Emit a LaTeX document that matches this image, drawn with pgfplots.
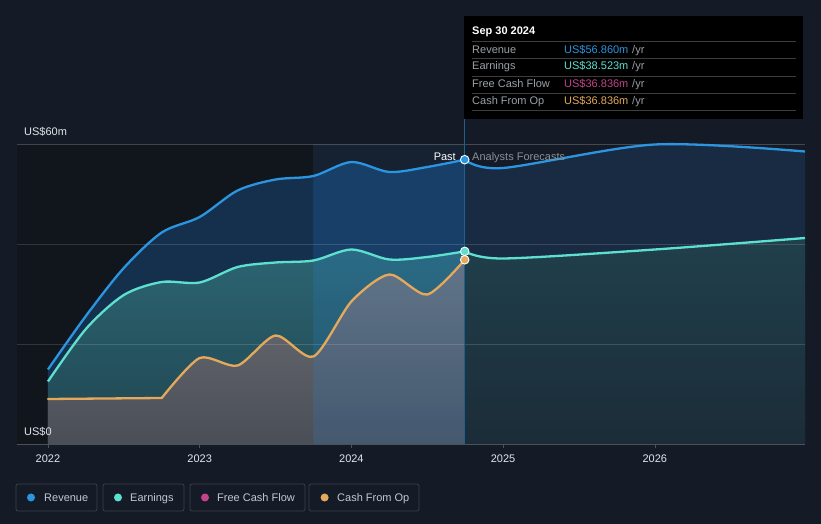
\documentclass[border=0pt]{standalone}
\usepackage{pgfplots}
\pgfplotsset{compat=1.18}
\usepackage{fontspec}
\setmainfont{Liberation Sans}
\definecolor{bg}{HTML}{151B26}
\definecolor{pastdark}{HTML}{11151C}
\definecolor{revline}{HTML}{2B95E0}
\definecolor{earnline}{HTML}{5EE0D0}
\definecolor{cashline}{HTML}{E6A95C}
\definecolor{fcfcol}{HTML}{C2448A}
\definecolor{revfillpast}{HTML}{15304D}
\definecolor{revfillfc}{HTML}{182B42}
\definecolor{earntop}{HTML}{2C6572}
\definecolor{earnbot}{HTML}{1F4550}
\definecolor{earnfctop}{HTML}{20404B}
\definecolor{earnfcbot}{HTML}{1B2C38}
\definecolor{cashtop}{HTML}{6E7076}
\definecolor{cashbot}{HTML}{4A4E56}
\colorlet{cashmid}{cashbot!75!cashtop}
\definecolor{bandcol}{HTML}{2A8EE8}
\definecolor{axiscol}{HTML}{4B515B}
\definecolor{ticktext}{HTML}{E2E5EA}
\definecolor{legtext}{HTML}{C3C7CE}
\definecolor{legborder}{HTML}{3A3F48}
\definecolor{tiplabel}{HTML}{9AA0A6}
\definecolor{tipsep}{HTML}{3D3D3D}
\definecolor{forecasttext}{HTML}{8A8F99}
\definecolor{vline}{HTML}{1F5F92}
\newcommand{\sz}{\fontsize{11}{13}\selectfont}
\begin{document}
\begin{tikzpicture}
\useasboundingbox (0pt,0pt) rectangle (821pt,524pt);
\fill[bg] (0pt,0pt) rectangle (821pt,524pt);
\begin{axis}[
  at={(17pt,80pt)}, anchor=south west, scale only axis,
  width=788pt, height=300pt,
  xmin=2021.796, xmax=2026.99, ymin=0, ymax=60,
  axis x line*=bottom, axis y line=none,
  x axis line style={draw=axiscol, line width=0.8pt, -},
  xtick={2022,2023,2024,2025,2026},
  xticklabels={2022,2023,2024,2025,2026},
  tick align=outside, major tick length=4pt,
  tick style={draw=axiscol, line width=0.6pt},
  xticklabel style={font=\sz, text=ticktext, yshift=-3pt},
  ytick=\empty,
  clip=false, axis on top,
]
% past dark region
\fill[pastdark] (axis cs:2021.796,0) rectangle (axis cs:2023.75,60);
% revenue fills
\addplot[smooth, draw=none, fill=revfillpast] coordinates {
(2022.0,14.9) (2022.25,25.6) (2022.5,35.2) (2022.75,42.3) (2023.0,45.4)
(2023.25,50.7) (2023.5,52.9) (2023.75,53.6) (2024.0,56.4) (2024.25,54.4)
(2024.5,55.4) (2024.747,56.86)} \closedcycle;
\addplot[smooth, draw=none, fill=revfillfc] coordinates {
(2024.747,56.86) (2025.0,55.2) (2026.0,59.9) (2026.99,58.5)} \closedcycle;
% earnings fills
\addplot[smooth, draw=none, top color=earntop, bottom color=earnbot] coordinates {
(2022.0,12.5) (2022.25,23.0) (2022.5,29.8) (2022.75,32.4) (2023.0,32.3)
(2023.25,35.4) (2023.5,36.3) (2023.75,36.7) (2024.0,38.9) (2024.25,36.9)
(2024.5,37.4) (2024.747,38.52)} \closedcycle;
\addplot[smooth, draw=none, top color=earnfctop, bottom color=earnfcbot] coordinates {
(2024.747,38.52) (2025.0,37.1) (2026.0,38.9) (2026.99,41.2)} \closedcycle;
% cash fill (flat part, then smooth part)
\addplot[sharp plot, draw=none, top color=cashmid, bottom color=cashbot] coordinates {
(2022.0,9.0) (2022.75,9.2)} \closedcycle;
\addplot[smooth, tension=0.45, draw=none, top color=cashtop, bottom color=cashbot] coordinates {
(2022.75,9.2) (2023.0,17.2)
(2023.25,15.7) (2023.5,21.7) (2023.75,17.5) (2024.0,28.5) (2024.25,33.9)
(2024.5,29.9) (2024.747,36.84)} \closedcycle;
% band (last year of the past)
\fill[bandcol, fill opacity=0.06] (axis cs:2023.75,0) rectangle (axis cs:2024.747,60);
\addplot[smooth, draw=none, fill=bandcol, fill opacity=0.12] coordinates {
(2023.75,53.6) (2024.0,56.4) (2024.25,54.4) (2024.5,55.4) (2024.747,56.86)} \closedcycle;
% gridlines
\draw[white, opacity=0.14, line width=0.7pt] (axis cs:2021.796,20) -- (axis cs:2026.99,20);
\draw[white, opacity=0.14, line width=0.7pt] (axis cs:2021.796,40) -- (axis cs:2026.99,40);
\draw[white, opacity=0.2, line width=0.7pt] (axis cs:2021.796,60) -- (axis cs:2026.99,60);
% lines
\addplot[smooth, revline, line width=2.3pt] coordinates {
(2022.0,14.9) (2022.25,25.6) (2022.5,35.2) (2022.75,42.3) (2023.0,45.4)
(2023.25,50.7) (2023.5,52.9) (2023.75,53.6) (2024.0,56.4) (2024.25,54.4)
(2024.5,55.4) (2024.747,56.86)};
\addplot[smooth, revline, line width=2.3pt] coordinates {
(2024.747,56.86) (2025.0,55.2) (2026.0,59.9) (2026.99,58.5)};
\addplot[smooth, earnline, line width=2.3pt] coordinates {
(2022.0,12.5) (2022.25,23.0) (2022.5,29.8) (2022.75,32.4) (2023.0,32.3)
(2023.25,35.4) (2023.5,36.3) (2023.75,36.7) (2024.0,38.9) (2024.25,36.9)
(2024.5,37.4) (2024.747,38.52)};
\addplot[smooth, earnline, line width=2.3pt] coordinates {
(2024.747,38.52) (2025.0,37.1) (2026.0,38.9) (2026.99,41.2)};
\addplot[sharp plot, cashline, line width=2.3pt, line cap=round] coordinates {
(2022.0,9.0) (2022.75,9.2)};
\addplot[smooth, tension=0.45, cashline, line width=2.3pt, line cap=round] coordinates {
(2022.75,9.2) (2023.0,17.2)
(2023.25,15.7) (2023.5,21.7) (2023.75,17.5) (2024.0,28.5) (2024.25,33.9)
(2024.5,29.9) (2024.747,36.84)};
% vertical line
\draw[vline, line width=0.8pt] (axis cs:2024.747,0) -- (axis cs:2024.747,65.1);
% dots
\addplot[only marks, mark=*, mark size=4.3pt, mark options={fill=revline, draw=white, line width=0.9pt}] coordinates {(2024.747,56.86)};
\addplot[only marks, mark=*, mark size=4.3pt, mark options={fill=earnline, draw=white, line width=0.9pt}] coordinates {(2024.747,38.52)};
\addplot[only marks, mark=*, mark size=4.3pt, mark options={fill=cashline, draw=white, line width=0.9pt}] coordinates {(2024.747,36.84)};
\end{axis}
% y labels
\node[anchor=base west, text=ticktext, font=\sz, inner sep=0pt] at (24pt,388pt) {US\$60m};
\node[anchor=base west, text=ticktext, font=\sz, inner sep=0pt] at (24pt,88pt) {US\$0};
% past / forecast labels
\node[anchor=base east, text=white, font=\sz, inner sep=0pt] at (456pt,363pt) {Past};
\node[anchor=base west, text=forecasttext, font=\sz, inner sep=0pt] at (472pt,363pt) {Analysts Forecasts};
% tooltip
\fill[black] (464pt,405pt) rectangle (803pt,508pt);
\foreach \yy in {483,465.7,448,430.7,413.3} {\draw[tipsep, line width=0.7pt] (472pt,\yy pt) -- (796pt,\yy pt);}
\node[anchor=base west, text=white, font=\bfseries\sz, inner sep=0pt] at (472pt,489pt) {Sep 30 2024};
\node[anchor=base west, text=tiplabel, font=\sz, inner sep=0pt] at (472pt,470.7pt) {Revenue};
\node[anchor=base west, text=tiplabel, font=\sz, inner sep=0pt] at (472pt,454pt) {Earnings};
\node[anchor=base west, text=tiplabel, font=\sz, inner sep=0pt] at (472pt,436.7pt) {Free Cash Flow};
\node[anchor=base west, text=tiplabel, font=\sz, inner sep=0pt] at (472pt,419pt) {Cash From Op};
\node[anchor=base west, text=revline, font=\sz, inner sep=0pt] at (564pt,470.7pt) {US\$56.860m};
\node[anchor=base west, text=earnline, font=\sz, inner sep=0pt] at (564pt,454pt) {US\$38.523m};
\node[anchor=base west, text=fcfcol, font=\sz, inner sep=0pt] at (564pt,436.7pt) {US\$36.836m};
\node[anchor=base west, text=cashline, font=\sz, inner sep=0pt] at (564pt,419pt) {US\$36.836m};
\foreach \yy in {470.7,454,436.7,419} {\node[anchor=base west, text=tiplabel, font=\sz, inner sep=0pt] at (632pt,\yy pt) {/yr};}
% legend
\draw[legborder, line width=0.8pt, rounded corners=2pt] (16pt,13pt) rectangle (97pt,40pt);
\fill[revline] (31pt,26.5pt) circle (4pt);
\node[anchor=base west, text=legtext, font=\sz, inner sep=0pt] at (44pt,22.5pt) {Revenue};
\draw[legborder, line width=0.8pt, rounded corners=2pt] (103pt,13pt) rectangle (184pt,40pt);
\fill[earnline] (118pt,26.5pt) circle (4pt);
\node[anchor=base west, text=legtext, font=\sz, inner sep=0pt] at (130pt,22.5pt) {Earnings};
\draw[legborder, line width=0.8pt, rounded corners=2pt] (190pt,13pt) rectangle (305pt,40pt);
\fill[fcfcol] (205pt,26.5pt) circle (4pt);
\node[anchor=base west, text=legtext, font=\sz, inner sep=0pt] at (217pt,22.5pt) {Free Cash Flow};
\draw[legborder, line width=0.8pt, rounded corners=2pt] (309pt,13pt) rectangle (419pt,40pt);
\fill[cashline] (324.6pt,26.5pt) circle (4pt);
\node[anchor=base west, text=legtext, font=\sz, inner sep=0pt] at (337pt,22.5pt) {Cash From Op};
\end{tikzpicture}
\end{document}
